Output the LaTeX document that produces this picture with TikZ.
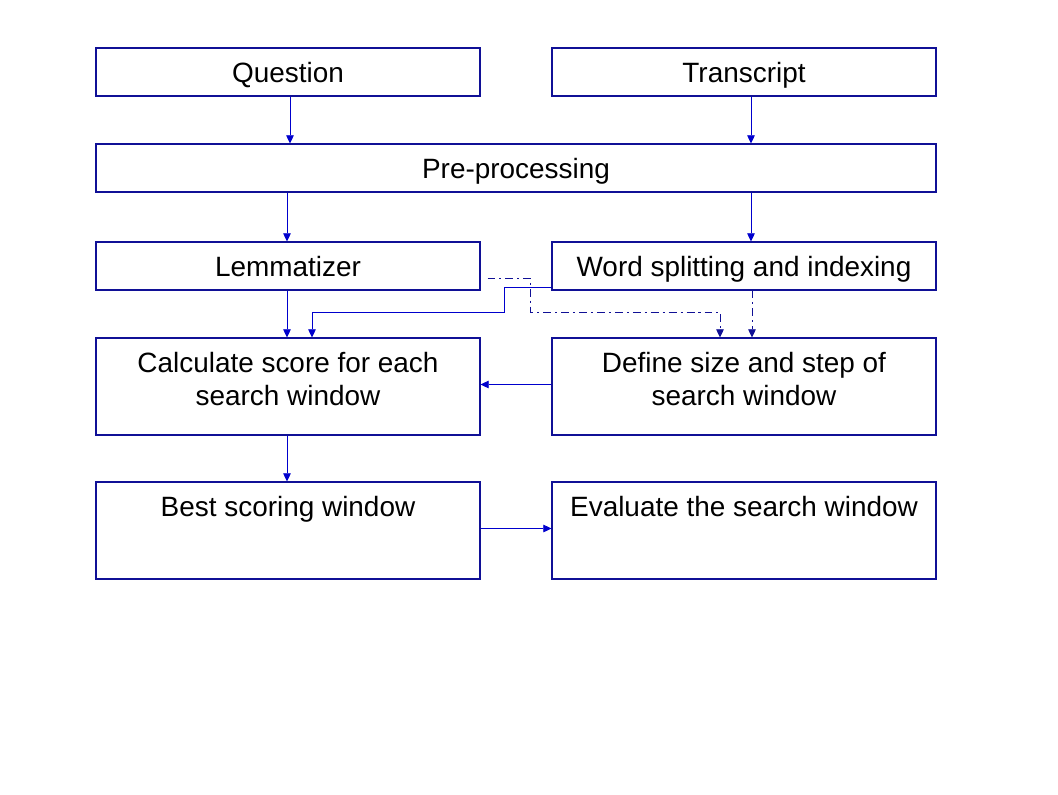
\documentclass[tikz,border=0pt]{standalone}
\usepackage{fontspec}
\setmainfont{Liberation Sans}
\usetikzlibrary{arrows.meta}
\newdimen\px \px=0.6805pt
\definecolor{boxblue}{RGB}{16,16,150}
\definecolor{arrowblue}{RGB}{0,0,205}
\tikzset{
  box/.style={draw=boxblue, line width=0.7pt, minimum width=384\px, minimum height=48\px, inner sep=0pt, text height=20\px, text depth=0pt, font=\fontsize{19pt}{22.5pt}\selectfont},
  tallbox/.style={box, minimum height=97\px},
  toptext/.style={anchor=north, inner sep=0pt, yshift=-14\px, align=center, font=\fontsize{19pt}{22.5pt}\selectfont},
  flow/.style={draw=arrowblue, line width=0.6pt, -{Triangle[length=5.6pt, width=5.2pt]}},
  dashflow/.style={flow, draw=boxblue, dash pattern=on 5.4pt off 2.7pt on 1.4pt off 2.7pt}
}
\begin{document}
\begin{tikzpicture}[x=1\px, y=-1\px]
\useasboundingbox (0,0) rectangle (1058,794);
% top row
\node[box] (quest) at (288, 72) {Question};
\node[box] (trans) at (744, 72) {Transcript};
\node[box, minimum width=840\px] (pre) at (516, 168) {Pre-processing};
\node[box] (lem) at (288, 266) {Lemmatizer};
\node[box] (word) at (744, 266) {Word splitting and indexing};
% tall boxes
\node[tallbox] (calc) at (288, 386.5) {};
\node[toptext] (calctxt) at (calc.north) {Calculate score for each\\search window};
\node[tallbox] (def) at (744, 386.5) {};
\node[toptext] (deftxt) at (def.north) {Define size and step of\\search window};
\node[tallbox] (best) at (288, 530.5) {};
\node[toptext] (besttxt) at (best.north) {Best scoring window};
\node[tallbox] (eval) at (744, 530.5) {};
\node[toptext] (evaltxt) at (eval.north) {Evaluate the search window};

\draw[flow] (290,0 |- quest.south) -- (290,0 |- pre.north);
\draw[flow] (751,0 |- trans.south) -- (751,0 |- pre.north);
\draw[flow] (287,0 |- pre.south) -- (287,0 |- lem.north);
\draw[flow] (751,0 |- pre.south) -- (751,0 |- word.north);
\draw[flow] (287,0 |- lem.south) -- (287,0 |- calc.north);
\draw[flow] ([yshift=2\px]def.west) -- ([yshift=2\px]calc.east);
\draw[flow] (287,0 |- calc.south) -- (287,0 |- best.north);
\draw[flow] ([yshift=2\px]best.east) -- ([yshift=2\px]eval.west);

\draw[flow] ([yshift=-21\px]word.west) -- ++(-47,0) -- ++(0,25) -| ([xshift=24\px]calc.north);
\draw[dashflow] ([xshift=7\px, yshift=-12\px]lem.east) -- ++(43,0) -- ++(0,34) -| ([xshift=-24\px]def.north);
\draw[dashflow] ([xshift=8\px]word.south) -- ([xshift=8\px]def.north);
\end{tikzpicture}
\end{document}
